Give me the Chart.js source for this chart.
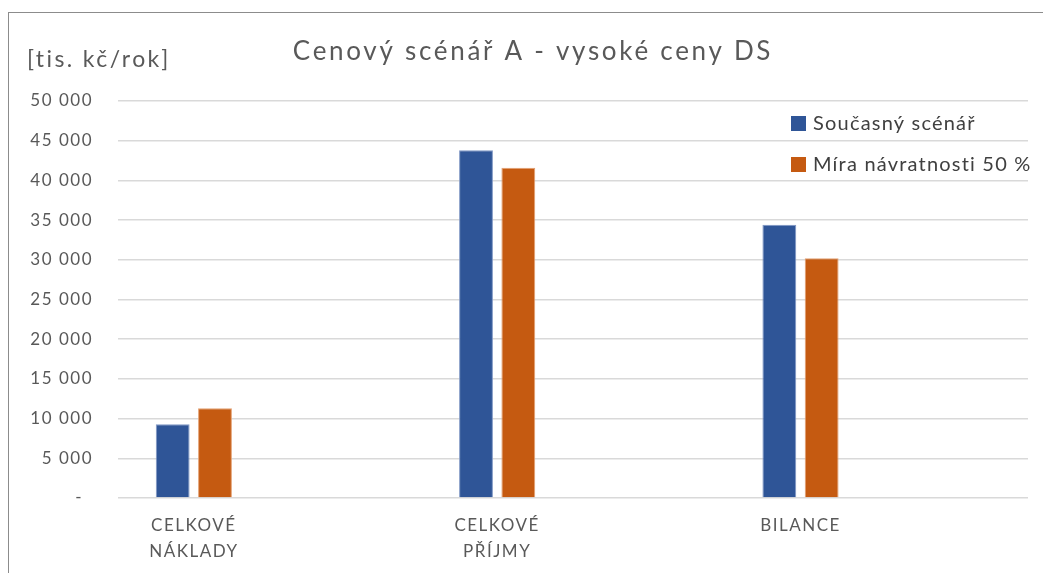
<!DOCTYPE html>
<html><head><meta charset="utf-8">
<script src="https://cdn.jsdelivr.net/npm/chart.js@4"></script>
<style>
html,body{margin:0;padding:0;background:#fff;width:1043px;height:573px;overflow:hidden;}
#frame{position:absolute;left:8px;top:12px;width:1100px;height:620px;border:1px solid #8c8c8c;box-sizing:border-box;}
#wrap{position:absolute;left:0;top:0;width:1043px;height:573px;}
</style></head><body>
<div id="frame"></div>
<div id="wrap"><canvas id="c" width="1043" height="573"></canvas></div>
<script>
const chartTitle = 'Cenový scénář A - vysoké ceny DS';
const yAxisTitle = '[tis. kč/rok]';
const categories = [['CELKOVÉ','NÁKLADY'], ['CELKOVÉ','PŘÍJMY'], ['BILANCE']];
const seriesNames = ['Současný scénář', 'Míra návratnosti 50 %'];
const currentScenario = [9300, 43800, 34400];
const returnRate50 = [11300, 41600, 30200];
const yTickValues = [0, 5000, 10000, 15000, 20000, 25000, 30000, 35000, 40000, 45000, 50000];
const yTickLabels = ['-\u2002', '5 000', '10 000', '15 000', '20 000', '25 000', '30 000', '35 000', '40 000', '45 000', '50 000'];

const FONT = 'Lato, "Liberation Sans", sans-serif';

const overlay = {
  id: 'overlay',
  beforeDraw(chart) {
    chart.ctx.letterSpacing = '1.5px';
  },
  afterDraw(chart) {
    const ctx = chart.ctx;
    ctx.save();
    ctx.textBaseline = 'middle';
    ctx.fillStyle = '#595959';
    ctx.font = '26px ' + FONT;
    ctx.letterSpacing = '2.7px';
    ctx.textAlign = 'left';
    const tw = ctx.measureText(chartTitle).width;
    ctx.fillText(chartTitle, 533 - tw / 2, 52);
    ctx.font = '23px ' + FONT;
    ctx.letterSpacing = '2.4px';
    ctx.fillText(yAxisTitle, 27, 60);
    chart.data.datasets.forEach((ds, i) => {
      const y = 123 + i * 41;
      ctx.fillStyle = ds.backgroundColor;
      ctx.fillRect(791, y - 7, 15, 15);
      ctx.fillStyle = '#404040';
      ctx.font = '20px ' + FONT;
      ctx.letterSpacing = '1.2px';
      ctx.fillText(ds.label, 813, y + 1);
    });
    ctx.restore();
  }
};

new Chart(document.getElementById('c'), {
  type: 'bar',
  data: {
    datasets: [
      { label: seriesNames[0], data: currentScenario.map((v, i) => ({x: i, y: v})),
        backgroundColor: '#2F5597', borderColor: '#7f97c4', borderWidth: 1 },
      { label: seriesNames[1], data: returnRate50.map((v, i) => ({x: i, y: v})),
        backgroundColor: '#C55A11', borderColor: '#e3a072', borderWidth: 1 }
    ]
  },
  options: {
    responsive: false,
    animation: false,
    categoryPercentage: 0.279,
    barPercentage: 0.8,
    layout: { padding: { left: 0, right: 15, top: 101, bottom: 0 } },
    plugins: { legend: { display: false }, title: { display: false }, tooltip: { enabled: false } },
    scales: {
      x: {
        type: 'linear', offset: false, min: -0.25, max: 2.75,
        grid: { display: false, drawTicks: false, offset: false },
        border: { display: false },
        afterBuildTicks(scale) { scale.ticks = categories.map((c, i) => ({ value: i })); },
        afterFit(scale) { scale.height = 75; },
        ticks: {
          autoSkip: false, maxRotation: 0, padding: 14,
          color: '#595959', font: { family: FONT, size: 17, lineHeight: 1.55 },
          callback: (v) => categories[v]
        }
      },
      y: {
        min: 0, max: 50000,
        grid: { color: '#d9d9d9', lineWidth: 1.5, drawTicks: false },
        border: { display: false },
        afterBuildTicks(scale) { scale.ticks = yTickValues.map(v => ({ value: v })); },
        afterFit(scale) { scale.width = 118; },
        ticks: {
          padding: 25, color: '#595959', font: { family: FONT, size: 17 },
          callback: (v) => yTickLabels[yTickValues.indexOf(v)]
        }
      }
    }
  },
  plugins: [overlay]
});
</script>
</body></html>
